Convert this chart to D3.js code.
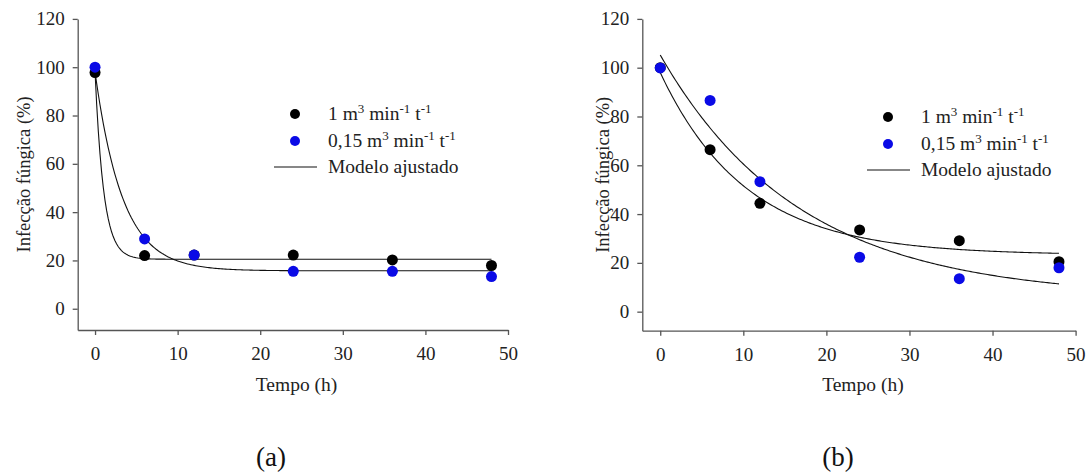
<!DOCTYPE html>
<html>
<head>
<meta charset="utf-8">
<script src="https://cdn.jsdelivr.net/npm/d3@7"></script>
<style>
  body { margin: 0; background: #fff; }
  svg { display: block; }
</style>
</head>
<body>
<div id="chart"></div>
<script>
// sampling times (h)
const hours = [0, 6, 12, 24, 36, 48];

// panel (a) observed infection (%)
const aHigh = [97.8, 22.0, 22.2, 22.2, 20.2, 17.9];
const aLow = [100, 28.9, 22.2, 15.5, 15.5, 13.3];
// panel (b)
const bHigh = [100, 66.4, 44.4, 33.5, 29.1, 20.5];
const bLow = [99.9, 86.6, 53.3, 22.3, 13.5, 18.0];

// fitted model y = plateau + amp * exp(-k t), params
const aHighFit = [20.5, 77.5, 0.96];
const aLowFit = [15.7, 82.3, 0.30];
const bHighFit = [23.2, 74.8, 0.0968];
const bLowFit = [5.7, 99.5, 0.0596];

const xTicks = [0, 10, 20, 30, 40, 50];
const yTicks = [0, 20, 40, 60, 80, 100, 120];

const width = 1090;
const height = 475;
const BLACK = '#000';
const BLUE = '#0a0ae6';
const AXIS = '#555';
const SERIF = 'Liberation Serif';

const svg = d3.select('#chart').append('svg')
  .attr('width', width)
  .attr('height', height);

const panels = [
  { high: aHigh, low: aLow, highFit: aHighFit, lowFit: aLowFit, label: '(a)',
    xRange: [77.7, 508], xMin: -2.1, yRange: [330, 18.9], yMin: -8.8,
    titleX: 24, legendX: 295, legendY: 114, captionX: 271 },
  { high: bHigh, low: bLow, highFit: bHighFit, lowFit: bLowFit, label: '(b)',
    xRange: [642.3, 1075.6], xMin: -2.16, yRange: [330.7, 18.9], yMin: -7.8,
    titleX: 603, legendX: 888, legendY: 117, captionX: 838 }
];

const modelPoints = fit => d3.range(0, 48.001, 0.2).map(t => [t, fit[0] + fit[1] * Math.exp(-fit[2] * t)]);

const serifText = (sel, size) => sel
  .attr('font-family', SERIF)
  .style('font-family', SERIF)
  .style('font-size', `${size}px`)
  .attr('fill', '#222');

const drawPanel = p => {
  const x = d3.scaleLinear().domain([p.xMin, 50]).range(p.xRange);
  const y = d3.scaleLinear().domain([p.yMin, 120]).range(p.yRange);
  const g = svg.append('g');

  const xAxis = g.append('g')
    .attr('transform', `translate(0,${p.yRange[0]})`)
    .call(d3.axisBottom(x).tickValues(xTicks).tickSize(5).tickSizeOuter(0).tickPadding(12));
  const yAxis = g.append('g')
    .attr('transform', `translate(${p.xRange[0]},0)`)
    .call(d3.axisLeft(y).tickValues(yTicks).tickSize(5).tickSizeOuter(0).tickPadding(8));

  [xAxis, yAxis].forEach(a => {
    a.attr('font-family', SERIF);
    a.selectAll('path, line').attr('stroke', AXIS).attr('stroke-width', 1.3);
    serifText(a.selectAll('text'), 19);
  });

  // axis titles
  serifText(g.append('text'), 18.5)
    .attr('transform', `translate(${p.titleX},${(p.yRange[0] + p.yRange[1]) / 2}) rotate(-90)`)
    .attr('text-anchor', 'middle')
    .attr('dy', '0.35em')
    .text('Infecção fúngica (%)');
  serifText(g.append('text'), 19.5)
    .attr('x', (x(0) + x(50)) / 2 - 5)
    .attr('y', 391)
    .attr('text-anchor', 'middle')
    .text('Tempo (h)');
  serifText(g.append('text'), 27)
    .attr('x', p.captionX)
    .attr('y', 466)
    .attr('text-anchor', 'middle')
    .attr('fill', '#111')
    .text(p.label);

  // fitted curves
  const line = d3.line().x(d => x(d[0])).y(d => y(d[1]));
  [p.highFit, p.lowFit].forEach(fit => {
    g.append('path')
      .attr('d', line(modelPoints(fit)))
      .attr('fill', 'none')
      .attr('stroke', '#111')
      .attr('stroke-width', 1.1);
  });

  // observed points
  [[p.high, BLACK], [p.low, BLUE]].forEach(([vals, color]) => {
    g.append('g').selectAll('circle')
      .data(hours.map((h, i) => [h, vals[i]]))
      .enter()
      .append('circle')
      .attr('cx', d => x(d[0]))
      .attr('cy', d => y(d[1]))
      .attr('r', 5.5)
      .attr('fill', color);
  });

  // legend
  const lg = g.append('g').attr('transform', `translate(${p.legendX},${p.legendY})`);
  const textX = 33;
  const entries = [
    { color: BLACK, parts: [['1 m', 0], ['3', 1], [' min', 0], ['-1', 1], [' t', 0], ['-1', 1]] },
    { color: BLUE, parts: [['0,15 m', 0], ['3', 1], [' min', 0], ['-1', 1], [' t', 0], ['-1', 1]] }
  ];
  entries.forEach((e, i) => {
    lg.append('circle').attr('cx', 0).attr('cy', i * 27).attr('r', 5).attr('fill', e.color);
    const t = serifText(lg.append('text'), 19.5)
      .attr('x', textX)
      .attr('y', i * 27 + 6);
    e.parts.forEach(([s, sup], j) => {
      const ts = t.append('tspan').text(s);
      if (sup) ts.attr('dy', -7).style('font-size', '13px');
      else if (j > 0) ts.attr('dy', 7);
    });
  });
  lg.append('line')
    .attr('x1', -21).attr('x2', 22)
    .attr('y1', 53).attr('y2', 53)
    .attr('stroke', '#111').attr('stroke-width', 1.1);
  serifText(lg.append('text'), 19.5)
    .attr('x', textX)
    .attr('y', 59)
    .text('Modelo ajustado');
};

panels.forEach(drawPanel);
</script>
</body>
</html>
